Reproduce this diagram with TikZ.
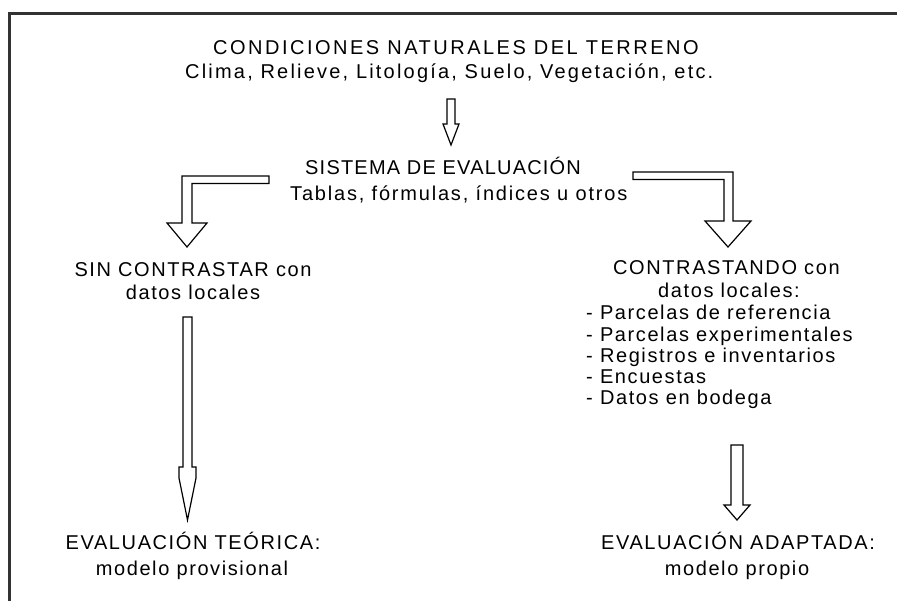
\documentclass[tikz,border=0pt]{standalone}
\usepackage{fontspec}
\setmainfont{Liberation Sans}[LetterSpace=8]
\begin{document}
\begin{tikzpicture}[x=1pt,y=-1pt,
  txt/.style={inner sep=0pt, anchor=base west, font=\fontsize{20}{24}\selectfont},
  ctxt/.style={txt, anchor=base},
  blockarrow/.style={draw=black, line width=1.2pt, fill=white, line join=miter}]
\useasboundingbox (0,0) rectangle (897,601);
\fill[white] (0,0) rectangle (897,601);
\draw[line width=2.5pt, black!80] (897,13.5) -- (9.5,13.5) -- (9.5,601);
% texts
\node[txt] (t1) at (213,55) {\addfontfeature{LetterSpace=12.5}CONDICIONES NATURALES DEL TERRENO};
\node[txt] (t2) at (185,79) {\addfontfeature{LetterSpace=11}Clima, Relieve, Litología, Suelo, Vegetación, etc.};
\node[txt] (s1) at (305,175) {\addfontfeature{LetterSpace=6}SISTEMA DE EVALUACIÓN};
\node[txt] (s2) at (290,201) {\addfontfeature{LetterSpace=9}Tablas, fórmulas, índices u otros};
\node[ctxt] (l1) at (193,277) {SIN CONTRASTAR con};
\node[ctxt] (l2) at (193,300) {datos locales};
\node[txt] (r1) at (613,275) {CONTRASTANDO con};
\node[txt] (r2) at (658,298) {datos locales:};
\node[txt] (li1) at (586,320) {- Parcelas de referencia};
\node[txt] (li2) at (586,341.25) {- Parcelas experimentales};
\node[txt] (li3) at (586,362.5) {- Registros e inventarios};
\node[txt] (li4) at (586,383.75) {- Encuestas};
\node[txt] (li5) at (586,405) {- Datos en bodega};
\node[ctxt] (e1) at (193,549) {EVALUACIÓN TEÓRICA:};
\node[ctxt] (e2) at (192,575) {modelo provisional};
\node[ctxt] (a1) at (738,549) {EVALUACIÓN ADAPTADA:};
\node[ctxt] (a2) at (737,575) {modelo propio};
% block arrows
\draw[blockarrow] (447,99) -- (455,99) -- (455,124) -- (459,124) -- (451,145) -- (443,124) -- (447,124) -- cycle;
\draw[blockarrow] (269,176) -- (182,176) -- (182,223) -- (167,223) -- (187,247) -- (207,223) -- (192,223) -- (192,183.5) -- (269,183.5) -- cycle;
\draw[blockarrow] (633,172) -- (733,172) -- (733,221) -- (751,221) -- (728,247) -- (705,221) -- (724,221) -- (724,179.5) -- (633,179.5) -- cycle;
\draw[blockarrow] (183,317) -- (192,317) -- (192,467) -- (196,467) -- (196,478) -- (187.5,520) -- (179,478) -- (179,467) -- (183,467) -- cycle;
\draw[blockarrow] (731,445) -- (743,445) -- (743,505) -- (750,505) -- (737,520) -- (724,505) -- (731,505) -- cycle;
\end{tikzpicture}
\end{document}
